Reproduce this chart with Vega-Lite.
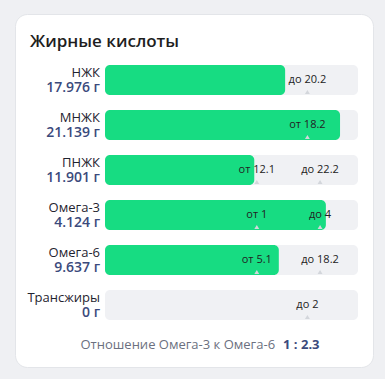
{
  "$schema": "https://vega.github.io/schema/vega-lite/v6.json",
  "width": 358,
  "height": 353,
  "autosize": {"type": "none"},
  "padding": {"left": 15, "top": 14, "right": 12, "bottom": 12},
  "background": "#eff0f3",
  "title": {"text": "Жирные кислоты", "anchor": "start", "font": "Open Sans", "fontSize": 17, "fontWeight": 600, "color": "#1e1e1e", "dx": 15, "dy": 50, "offset": 0, "baseline": "alphabetic"},
  "config": {"view": {"fill": "white", "cornerRadius": 12, "stroke": "#e3e5e9"}, "font": "Open Sans"},
  "datasets": {
    "rows": [
      {"name": "НЖК", "amount": "17.976 г", "frac": 0.712},
      {"name": "МНЖК", "amount": "21.139 г", "frac": 0.929},
      {"name": "ПНЖК", "amount": "11.901 г", "frac": 0.590},
      {"name": "Омега-3", "amount": "4.124 г", "frac": 0.873},
      {"name": "Омега-6", "amount": "9.637 г", "frac": 0.687},
      {"name": "Трансжиры", "amount": "0 г", "frac": 0}
    ],
    "marks": [
      {"name": "НЖК", "label": "до 20.2", "frac": 0.8},
      {"name": "МНЖК", "label": "от 18.2", "frac": 0.8},
      {"name": "ПНЖК", "label": "от 12.1", "frac": 0.6},
      {"name": "ПНЖК", "label": "до 22.2", "frac": 0.85},
      {"name": "Омега-3", "label": "от 1", "frac": 0.6},
      {"name": "Омега-3", "label": "до 4", "frac": 0.85},
      {"name": "Омега-6", "label": "от 5.1", "frac": 0.6},
      {"name": "Омега-6", "label": "до 18.2", "frac": 0.85},
      {"name": "Трансжиры", "label": "до 2", "frac": 0.8}
    ],
    "footer": [
      {"name": "footer", "caption": "Отношение Омега-3 к Омега-6", "ratio": "1 : 2.3", "frac": 0.688}
    ]
  },
  "layer": [
    {
      "data": {"name": "rows"},
      "transform": [{"calculate": "0", "as": "lo"}, {"calculate": "1", "as": "hi"}],
      "mark": {"type": "bar", "color": "#f0f1f4", "cornerRadius": 5, "height": {"band": 0.667}},
      "encoding": {
        "y": {"field": "name", "type": "nominal", "axis": null, "scale": {"type": "band", "domain": ["НЖК", "МНЖК", "ПНЖК", "Омега-3", "Омега-6", "Трансжиры", "footer"], "range": [43.5, 358.5], "paddingInner": 0, "paddingOuter": 0}},
        "x": {"field": "lo", "type": "quantitative", "axis": null, "scale": {"domain": [0, 1], "range": [90, 343]}},
        "x2": {"field": "hi"}
      }
    },
    {
      "data": {"name": "rows"},
      "transform": [{"filter": "datum.frac > 0"}, {"calculate": "0", "as": "lo"}],
      "mark": {"type": "bar", "color": "#17dc82", "cornerRadius": 5, "height": {"band": 0.667}},
      "encoding": {
        "y": {"field": "name", "type": "nominal"},
        "x": {"field": "lo", "type": "quantitative"},
        "x2": {"field": "frac"}
      }
    },
    {
      "data": {"name": "marks"},
      "mark": {"type": "point", "shape": "triangle-up", "filled": true, "color": "#d3d6db", "opacity": 1, "size": 24, "yOffset": 12},
      "encoding": {
        "y": {"field": "name", "type": "nominal"},
        "x": {"field": "frac", "type": "quantitative"}
      }
    },
    {
      "data": {"name": "marks"},
      "mark": {"type": "text", "fontSize": 11, "color": "#222222", "align": "center", "baseline": "middle"},
      "encoding": {
        "y": {"field": "name", "type": "nominal"},
        "x": {"field": "frac", "type": "quantitative"},
        "text": {"field": "label"}
      }
    },
    {
      "data": {"name": "rows"},
      "transform": [{"calculate": "0", "as": "lo"}],
      "mark": {"type": "text", "fontSize": 13, "color": "#1f2430", "align": "right", "baseline": "middle", "dx": -5, "dy": -7.5},
      "encoding": {
        "y": {"field": "name", "type": "nominal"},
        "x": {"field": "lo", "type": "quantitative"},
        "text": {"field": "name"}
      }
    },
    {
      "data": {"name": "rows"},
      "transform": [{"calculate": "0", "as": "lo"}],
      "mark": {"type": "text", "fontSize": 14, "fontWeight": 600, "color": "#3b4a7c", "align": "right", "baseline": "middle", "dx": -5, "dy": 7.5},
      "encoding": {
        "y": {"field": "name", "type": "nominal"},
        "x": {"field": "lo", "type": "quantitative"},
        "text": {"field": "amount"}
      }
    },
    {
      "data": {"name": "footer"},
      "mark": {"type": "text", "fontSize": 13, "color": "#6b7080", "align": "right", "baseline": "middle", "dx": -4, "dy": -5},
      "encoding": {
        "y": {"field": "name", "type": "nominal"},
        "x": {"field": "frac", "type": "quantitative"},
        "text": {"field": "caption"}
      }
    },
    {
      "data": {"name": "footer"},
      "mark": {"type": "text", "fontSize": 13, "fontWeight": 700, "color": "#3b4a7c", "align": "left", "baseline": "middle", "dx": 4, "dy": -5},
      "encoding": {
        "y": {"field": "name", "type": "nominal"},
        "x": {"field": "frac", "type": "quantitative"},
        "text": {"field": "ratio"}
      }
    }
  ]
}
